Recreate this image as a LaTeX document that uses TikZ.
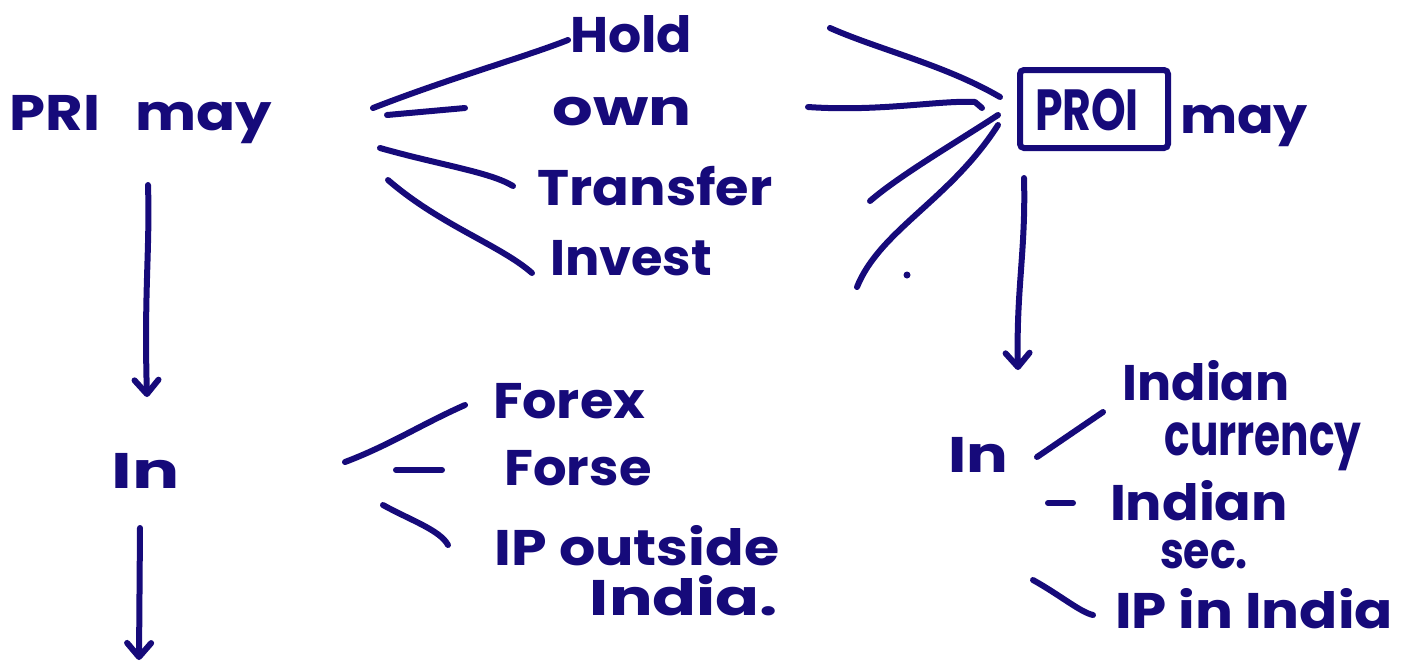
\documentclass[tikz,border=0pt]{standalone}
\usepackage{fontspec}
\usepackage{graphicx}
\setmainfont{Poppins}
\newfontfamily\hand{Poppins}
\usetikzlibrary{arrows.meta}
\definecolor{ink}{RGB}{22,10,122}
\newcommand{\fitto}[2]{\resizebox{#1pt}{\height}{#2}}
\tikzset{
  stroke/.style={draw=ink,line width=3pt,line cap=round,line join=round},
  lbl/.style={text=ink,font=\hand\fontsize{25}{30}\selectfont\bfseries,inner sep=0pt,anchor=base},
  biglbl/.style={lbl,font=\hand\fontsize{29}{32}\selectfont\bfseries},
  arr/.style={stroke,-{Straight Barb[length=7pt,width=12pt,round]}},
  framebox/.style={draw=ink,line width=3pt,rounded corners=2pt,minimum width=74pt,minimum height=39pt,inner sep=0pt}
}
\begin{document}
\begin{tikzpicture}[x=0.5pt,y=-0.5pt]
\useasboundingbox (0,0) rectangle (1403,666);
% left top group
\node[lbl] (pri) at (141,130) {\fitto{131}{PRI\hspace{0.6em}may}};
\node[lbl] (hold) at (631,52) {\fitto{61}{Hold}};
\node[lbl] (own) at (622,125) {\fitto{69.5}{own}};
\node[lbl] (transfer) at (655,205) {\fitto{117.5}{Transfer}};
\node[lbl] (invest) at (631,275) {\fitto{81}{Invest}};
% right top group
\node[framebox] (proi) at (1094,109) {};
\node[biglbl] (proitext) at (1087,130) {\fitto{52}{PROI}};
\node[lbl] (may) at (1244,133) {\fitto{64}{may}};
% left bottom group
\node[lbl] (inl) at (146,488) {\fitto{34}{In}};
\node[lbl] (forex) at (569,418) {\fitto{76}{Forex}};
\node[lbl] (forse) at (578,485) {\fitto{73.5}{Forse}};
\node[lbl] (ipout) at (637,565) {\fitto{142.5}{IP outside}};
\node[lbl] (ipout2) at (684,615) {\fitto{94}{India.}};
% right bottom group
\node[lbl] (inr) at (978,472) {\fitto{30}{In}};
\node[lbl] (cur1) at (1206,400) {\fitto{83.5}{Indian}};
\node[biglbl] (cur2) at (1263,455) {\fitto{98.5}{currency}};
\node[lbl] (sec1) at (1199,520) {\fitto{89}{Indian}};
\node[lbl] (sec2) at (1204,568) {\fitto{44}{sec.}};
\node[lbl] (ipin) at (1254,628) {\fitto{139}{IP in India}};
% strokes left top
\draw[stroke] (373,108) .. controls (450,78) and (525,57) .. (568,40);
\draw[stroke] (387,115) -- (465,108);
\draw[stroke] (380,148) .. controls (440,165) and (490,172) .. (513,186);
\draw[stroke] (388,180) .. controls (440,225) and (500,245) .. (532,273);
% strokes right top
\draw[stroke] (830,28) .. controls (880,50) and (945,65) .. (1000,97);
\draw[stroke] (808,107) .. controls (880,112) and (940,100) .. (975,102) -- (982,108);
\draw[stroke] (870,201) .. controls (900,175) and (960,140) .. (998,115);
\draw[stroke] (857,287) .. controls (880,230) and (950,200) .. (998,125);
\fill[ink] (907,275) circle (3.5);
% arrows
\draw[arr] (148,185) .. controls (150,250) and (144,290) .. (147,397);
\draw[arr] (140,528) -- (139,660);
\draw[arr] (1024,178) .. controls (1026,250) and (1016,290) .. (1018,370);
% strokes left bottom
\draw[stroke] (345,462) .. controls (390,445) and (420,425) .. (465,405);
\draw[stroke] (396,470) -- (442,470);
\draw[stroke] (383,505) .. controls (410,520) and (440,530) .. (448,545);
% strokes right bottom
\draw[stroke] (1037,457) -- (1103,412);
\draw[stroke] (1048,503) -- (1073,503);
\draw[stroke] (1033,580) .. controls (1060,595) and (1080,612) .. (1093,615);
\end{tikzpicture}
\end{document}
